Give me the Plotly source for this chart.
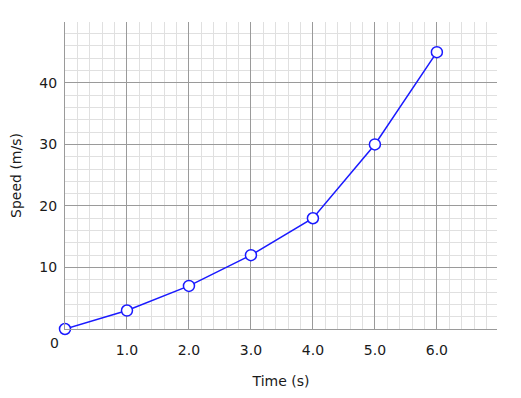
import plotly.graph_objects as go

time_s = [0, 1, 2, 3, 4, 5, 6]
speed = [0, 3, 7, 12, 18, 30, 45]
x_ticks = [1, 2, 3, 4, 5, 6]
x_tick_labels = ["1.0", "2.0", "3.0", "4.0", "5.0", "6.0"]
y_ticks = [10, 20, 30, 40]
y_tick_labels = ["10", "20", "30", "40"]

FONT = "DejaVu Sans"
MAJOR = "#9a9a9a"
MINOR = "#e0e0e0"
TEXT = "#1a1a1a"

fig = go.Figure()
fig.add_trace(go.Scatter(
    x=time_s, y=speed, mode="lines+markers",
    line=dict(color="#1a1aff", width=1.5),
    marker=dict(size=11, color="white", line=dict(color="#1a1aff", width=1.5)),
    cliponaxis=False,
))

fig.update_layout(
    width=521, height=398,
    margin=dict(l=65, r=24, t=22, b=69),
    plot_bgcolor="white", paper_bgcolor="white",
    showlegend=False,
    font=dict(family=FONT, size=14, color=TEXT),
    xaxis=dict(
        range=[0, 6.97], tickvals=x_ticks, ticktext=x_tick_labels,
        showgrid=True, gridcolor=MAJOR, gridwidth=1,
        minor=dict(dtick=0.2, tick0=0, showgrid=True, gridcolor=MINOR, gridwidth=1),
        zeroline=False, showline=True, linecolor=MAJOR, linewidth=1,
        ticks="", ticklabelstandoff=8, automargin=False,
        title=dict(text="Time (s)", font=dict(size=14), standoff=19),
        fixedrange=True,
    ),
    yaxis=dict(
        range=[0, 49.9], tickvals=y_ticks, ticktext=y_tick_labels,
        showgrid=True, gridcolor=MAJOR, gridwidth=1,
        minor=dict(dtick=2, tick0=0, showgrid=True, gridcolor=MINOR, gridwidth=1),
        zeroline=False, showline=True, linecolor=MAJOR, linewidth=1,
        ticks="", ticklabelstandoff=4, automargin=False,
        title=dict(text="Speed (m/s)", font=dict(size=14), standoff=14),
        fixedrange=True,
    ),
)

fig.add_annotation(
    x=0, y=0, xref="x", yref="y", text="0", showarrow=False,
    xanchor="right", yanchor="top", xshift=-4, yshift=-4,
    font=dict(family=FONT, size=14, color=TEXT),
)

fig.write_html(
    "out.html",
    config={"displayModeBar": False},
    post_script="document.body.style.margin='0';document.body.style.overflow='hidden';",
)
